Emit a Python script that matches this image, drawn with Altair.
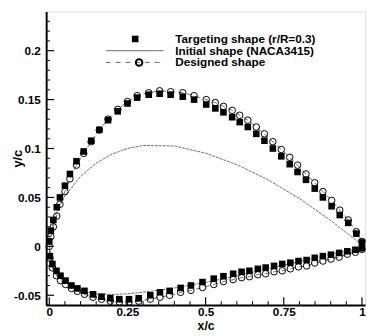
import altair as alt
import pandas as pd

# ---- data ----
tgt_up_x = [0.0, 0.005, 0.013, 0.024, 0.034, 0.05, 0.066, 0.087, 0.11, 0.134, 0.16, 0.188, 0.219, 0.25, 0.281,
            0.318, 0.353, 0.388, 0.427, 0.463, 0.502, 0.531, 0.557, 0.585, 0.609, 0.635, 0.662, 0.688, 0.715,
            0.742, 0.769, 0.794, 0.821, 0.849, 0.875, 0.903, 0.929, 0.956, 0.982, 1.0]
tgt_up_y = [0.005, 0.016, 0.027, 0.040, 0.050, 0.062, 0.074, 0.087, 0.097, 0.108, 0.119, 0.129, 0.138, 0.146,
            0.152, 0.155, 0.156, 0.155, 0.153, 0.150, 0.145, 0.141, 0.137, 0.132, 0.127, 0.122, 0.115, 0.108,
            0.100, 0.092, 0.084, 0.076, 0.068, 0.059, 0.050, 0.041, 0.032, 0.024, 0.013, 0.004]
tgt_lo_x = [0.002, 0.01, 0.023, 0.036, 0.052, 0.071, 0.09, 0.1125, 0.14, 0.167, 0.195, 0.224, 0.255, 0.286,
            0.323, 0.354, 0.385, 0.42, 0.453, 0.49, 0.526, 0.557, 0.588, 0.615, 0.64, 0.667, 0.692, 0.719,
            0.745, 0.771, 0.797, 0.823, 0.849, 0.875, 0.901, 0.927, 0.953, 0.979, 1.0]
tgt_lo_y = [-0.010, -0.018, -0.025, -0.030, -0.035, -0.040, -0.043, -0.0455, -0.049, -0.0515, -0.053, -0.054,
            -0.054, -0.053, -0.050, -0.047, -0.0455, -0.0425, -0.040, -0.0365, -0.033, -0.0305, -0.028, -0.026,
            -0.025, -0.023, -0.0217, -0.020, -0.018, -0.0167, -0.015, -0.014, -0.0117, -0.010, -0.0085,
            -0.0067, -0.005, -0.0035, -0.002]

des_up_x = tgt_up_x
des_up_y = [0.0, 0.010, 0.020, 0.031, 0.043, 0.056, 0.069, 0.083, 0.095, 0.107, 0.119, 0.130, 0.140, 0.148,
            0.154, 0.157, 0.159, 0.158, 0.157, 0.154, 0.150, 0.147, 0.143, 0.139, 0.134, 0.129, 0.122, 0.115,
            0.107, 0.099, 0.091, 0.083, 0.074, 0.065, 0.056, 0.047, 0.037, 0.027, 0.015, 0.005]
des_lo_x = tgt_lo_x
des_lo_y = [-0.012, -0.022, -0.030, -0.035, -0.039, -0.043, -0.046, -0.049, -0.052, -0.054, -0.056, -0.057,
            -0.057, -0.056, -0.054, -0.052, -0.050, -0.047, -0.045, -0.042, -0.039, -0.036, -0.034, -0.032,
            -0.031, -0.029, -0.028, -0.026, -0.025, -0.023, -0.021, -0.020, -0.017, -0.015, -0.013, -0.011,
            -0.008, -0.006, -0.003]

ini_x = [0.0, 0.0125, 0.025, 0.05, 0.1, 0.15, 0.2, 0.25, 0.3, 0.4, 0.5, 0.6, 0.7, 0.8, 0.9, 1.0]
ini_up = [0.0, 0.0255, 0.0363, 0.0514, 0.0716, 0.0851, 0.0942, 0.1001, 0.1031, 0.1026, 0.0953, 0.0835,
          0.068, 0.0489, 0.0265, 0.0016]
ini_lo = [0.0, -0.0218, -0.0291, -0.0374, -0.0454, -0.0485, -0.0492, -0.0485, -0.0469, -0.0426, -0.0369,
          -0.0301, -0.023, -0.0155, -0.0081, -0.0016]

x_major = [0, 0.25, 0.5, 0.75, 1]
x_minor = [0.05, 0.1, 0.15, 0.2, 0.3, 0.35, 0.4, 0.45, 0.55, 0.6, 0.65, 0.7, 0.8, 0.85, 0.9, 0.95]
y_major = [-0.05, 0, 0.05, 0.1, 0.15, 0.2]
y_minor = [-0.06, -0.04, -0.03, -0.02, -0.01, 0.01, 0.02, 0.03, 0.04, 0.06, 0.07, 0.08, 0.09, 0.11, 0.12,
           0.13, 0.14, 0.16, 0.17, 0.18, 0.19, 0.21, 0.22, 0.23]

legend_labels = ["Targeting  shape (r/R=0.3)", "Initial shape (NACA3415)", "Designed shape"]

# ---- tables ----
def closed(xu, yu, xl, yl):
    xs_ = list(reversed(xu)) + list(xl)
    ys_ = list(reversed(yu)) + list(yl)
    return pd.DataFrame({"x": xs_, "y": ys_, "o": range(len(xs_))})

tgt = pd.DataFrame({"x": tgt_up_x + tgt_lo_x, "y": tgt_up_y + tgt_lo_y})
des = pd.DataFrame({"x": des_up_x + des_lo_x, "y": des_up_y + des_lo_y})
des_line = closed(des_up_x, des_up_y, des_lo_x, des_lo_y)
ini_line = closed(ini_x, ini_up, ini_x[1:], ini_lo[1:])

FONT = "Liberation Sans"
xs = alt.Scale(domain=[-0.01, 1.01], nice=False, zero=False)
ys = alt.Scale(domain=[-0.06, 0.24], nice=False, zero=False)

X = alt.X("x:Q", scale=xs, axis=alt.Axis(
    values=x_major, title="x/c", labelExpr="'' + datum.value", tickSize=0, grid=False,
    domainColor="black", domainWidth=2, labelPadding=2, labelFont=FONT, labelFontSize=12,
    labelFontWeight="bold", labelColor="black", titleFont=FONT, titleFontSize=12.5,
    titleFontWeight="bold", titleColor="black", titleY=15, titleBaseline="top"))
Y = alt.Y("y:Q", scale=ys, axis=alt.Axis(
    values=y_major, title="y/c", labelExpr="'' + datum.value", tickSize=0, grid=False,
    domainColor="black", domainWidth=2, labelPadding=6, labelFont=FONT, labelFontSize=12,
    labelFontWeight="bold", labelColor="black", titleFont=FONT, titleFontSize=13,
    titleFontWeight="bold", titleColor="black", titleX=-29, titleY=150, titleBaseline="middle",
    titleAlign="center", titleAngle=270))

ini_layer = alt.Chart(ini_line).mark_line(color="#444444", strokeWidth=0.8, strokeDash=[3, 1]).encode(
    x=X, y=Y, order="o:Q")
des_line_layer = alt.Chart(des_line).mark_line(color="black", strokeWidth=0.6, strokeDash=[5, 4]).encode(
    x="x:Q", y="y:Q", order="o:Q")
des_pts = alt.Chart(des).mark_point(shape="circle", filled=False, color="black", size=45,
                                    strokeWidth=1, opacity=1).encode(x="x:Q", y="y:Q")
tgt_pts = alt.Chart(tgt).mark_point(shape="square", filled=True, color="black", size=45,
                                    opacity=1).encode(x="x:Q", y="y:Q")

# inward ticks
xmaj = alt.Chart(pd.DataFrame({"x": x_major})).mark_rule(color="black", strokeWidth=1.2).encode(
    x="x:Q", y=alt.value(300), y2=alt.value(292))
xmin = alt.Chart(pd.DataFrame({"x": x_minor})).mark_rule(color="black", strokeWidth=1).encode(
    x="x:Q", y=alt.value(300), y2=alt.value(296))
ymaj = alt.Chart(pd.DataFrame({"y": y_major})).mark_rule(color="black", strokeWidth=1.2).encode(
    y="y:Q", x=alt.value(0), x2=alt.value(8))
ymin = alt.Chart(pd.DataFrame({"y": y_minor})).mark_rule(color="black", strokeWidth=1).encode(
    y="y:Q", x=alt.value(0), x2=alt.value(4))

# legend (drawn inside the plot)
one = pd.DataFrame({"a": [0]})
row_y = [28, 40, 52]
leg_sq = alt.Chart(one).mark_point(shape="square", filled=True, color="black", size=45, opacity=1).encode(
    x=alt.value(91), y=alt.value(row_y[0]))
leg_l1 = alt.Chart(one).mark_rule(color="#444444", strokeWidth=0.8).encode(
    x=alt.value(61), x2=alt.value(120), y=alt.value(row_y[1]))
leg_l2 = alt.Chart(one).mark_rule(color="black", strokeWidth=0.6, strokeDash=[5, 5]).encode(
    x=alt.value(61), x2=alt.value(120), y=alt.value(row_y[2]))
leg_c = alt.Chart(one).mark_point(shape="circle", filled=False, color="black", size=45, opacity=1).encode(
    x=alt.value(95), y=alt.value(row_y[2]))
leg_txt = [
    alt.Chart(one).mark_text(align="left", baseline="middle", font=FONT, fontSize=12, fontWeight="bold",
                             color="black", text=lab).encode(x=alt.value(132), y=alt.value(ry))
    for lab, ry in zip(legend_labels, row_y)
]

chart = alt.layer(
    ini_layer, des_line_layer, des_pts, tgt_pts, xmaj, xmin, ymaj, ymin,
    leg_sq, leg_l1, leg_l2, leg_c, *leg_txt
).properties(
    width=326, height=300,
    autosize=alt.AutoSizeParams(type="none"),
    padding={"left": 39, "top": 0, "right": 4, "bottom": 28},
).configure_view(stroke="black", strokeWidth=1.5).configure(background="white")

chart.save("out.html", embed_options={"renderer": "svg", "actions": False})
